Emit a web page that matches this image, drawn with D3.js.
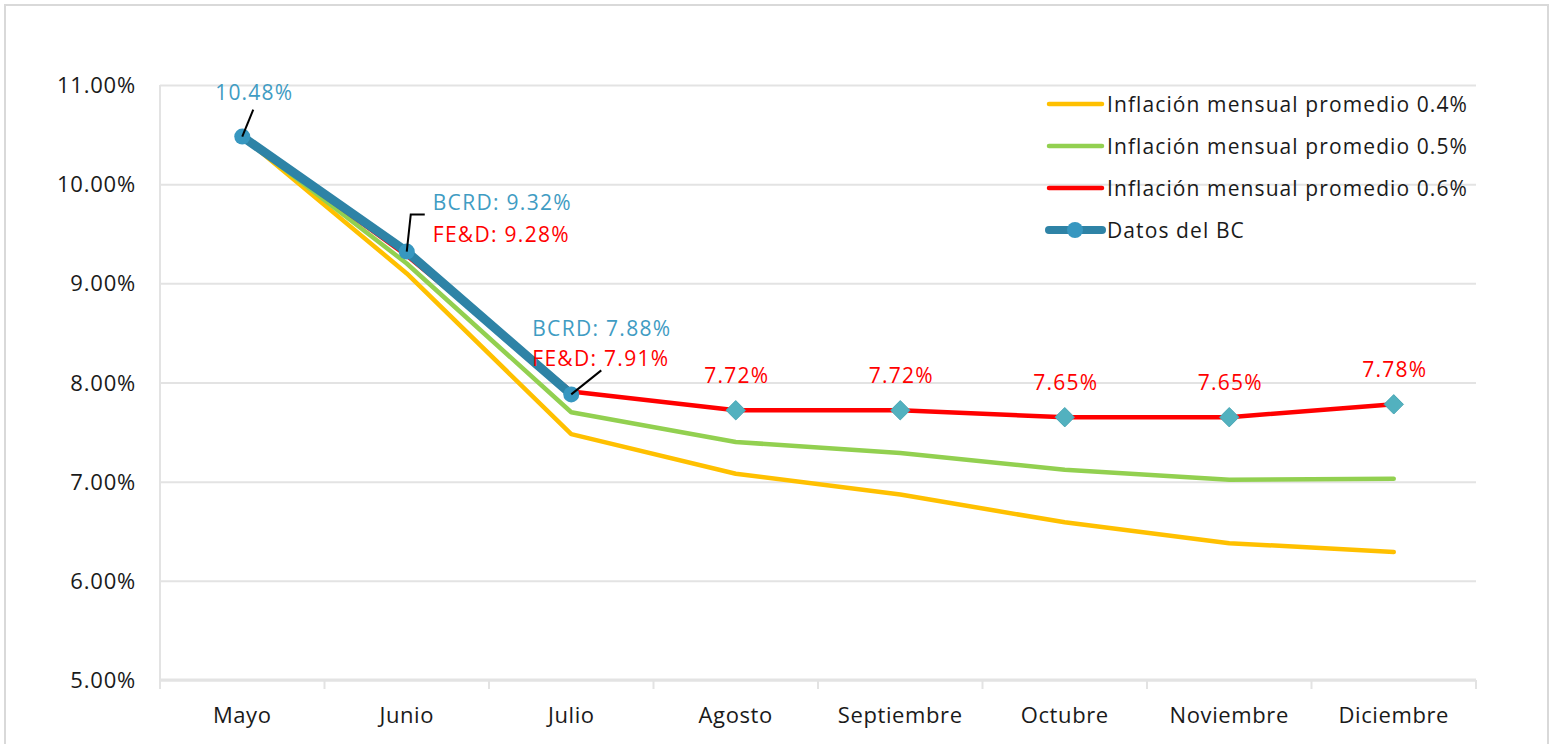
<!DOCTYPE html>
<html>
<head>
<meta charset="utf-8">
<script src="https://cdn.jsdelivr.net/npm/d3@7"></script>
<style>
  body { margin: 0; background: #fff; }
  text { font-family: "Open Sans", sans-serif; }
</style>
</head>
<body>
<div id="chart"></div>
<script>
//data
var months = ["Mayo", "Junio", "Julio", "Agosto", "Septiembre", "Octubre", "Noviembre", "Diciembre"];
var infl04 = [10.48, 9.10, 7.48, 7.08, 6.87, 6.59, 6.38, 6.29];
var infl05 = [10.48, 9.20, 7.70, 7.40, 7.29, 7.12, 7.02, 7.03];
var infl06 = [10.48, 9.28, 7.91, 7.72, 7.72, 7.65, 7.65, 7.78];
var bcData = [10.48, 9.32, 7.88, null, null, null, null, null];
var yTicks = [5, 6, 7, 8, 9, 10, 11];
var legendNames = ["Inflación mensual promedio 0.4%", "Inflación mensual promedio 0.5%",
    "Inflación mensual promedio 0.6%", "Datos del BC"];

//svg dimensions
var svgWidth = 1552;
var svgHeight = 744;

var margin = { top: 85, right: 76, bottom: 64, left: 160 };
var width = svgWidth - margin.left - margin.right;
var height = svgHeight - margin.top - margin.bottom;

var svg = d3.select("#chart").append("svg")
    .attr("width", svgWidth)
    .attr("height", svgHeight);

//outer border
svg.append("rect")
    .attr("x", 5).attr("y", 5)
    .attr("width", 1543).attr("height", 760)
    .attr("fill", "none")
    .attr("stroke", "#d9d9d9")
    .attr("stroke-width", 2);

var chartGroup = svg.append("g")
    .attr("transform", `translate(${margin.left}, ${margin.top})`);

//scales
var xBand = d3.scaleBand().domain(months).range([0, width]);
var x = d => xBand(d) + xBand.bandwidth() / 2;
var y = d3.scaleLinear().domain([5, 11]).range([height, 0]);

//gridlines
chartGroup.append("g")
    .call(d3.axisLeft(y).tickValues(yTicks).tickSize(-width).tickFormat(""))
    .call(g => g.select(".domain").remove())
    .selectAll("line")
    .attr("stroke", "#e3e3e3")
    .attr("stroke-width", 2);

//y tick labels
chartGroup.append("g")
    .selectAll("text")
    .data(yTicks)
    .enter()
    .append("text")
    .attr("x", -24)
    .attr("y", d => y(d) + 8)
    .attr("text-anchor", "end")
    .attr("font-size", "22px")
    .attr("letter-spacing", "0.8px")
    .attr("fill", "#1a1a1a")
    .text(d => d.toFixed(2) + "%");

//left axis line
chartGroup.append("line")
    .attr("x1", 0).attr("x2", 0)
    .attr("y1", 0).attr("y2", height)
    .attr("stroke", "#e3e3e3")
    .attr("stroke-width", 2);

//x axis with ticks between categories
var xAxis = chartGroup.append("g")
    .attr("transform", `translate(0, ${height})`);

xAxis.append("line")
    .attr("x1", 0).attr("x2", width)
    .attr("stroke", "#e3e3e3")
    .attr("stroke-width", 3);

xAxis.selectAll(".tick")
    .data(months.concat(["end"]))
    .enter()
    .append("line")
    .attr("x1", (d, i) => i * xBand.bandwidth())
    .attr("x2", (d, i) => i * xBand.bandwidth())
    .attr("y1", 0).attr("y2", 9)
    .attr("stroke", "#e3e3e3")
    .attr("stroke-width", 2);

xAxis.selectAll(".xlabel")
    .data(months)
    .enter()
    .append("text")
    .attr("x", d => x(d))
    .attr("y", 43)
    .attr("text-anchor", "middle")
    .attr("font-size", "22px")
    .attr("letter-spacing", "0.6px")
    .attr("fill", "#1a1a1a")
    .text(d => d);

//line generator
var line = d3.line()
    .defined(d => d.v != null)
    .x(d => x(d.m))
    .y(d => y(d.v));

function pairs(values) {
    return months.map((m, i) => ({ m: m, v: values[i] }));
}

var series = [
    { values: infl04, color: "#ffc000", w: 4.5 },
    { values: infl05, color: "#92d050", w: 4.5 },
    { values: infl06, color: "#ff0000", w: 4.5 },
    { values: bcData, color: "#2e83a6", w: 9 }
];

series.forEach(function(s) {
    chartGroup.append("path")
        .datum(pairs(s.values))
        .attr("d", line)
        .attr("fill", "none")
        .attr("stroke", s.color)
        .attr("stroke-width", s.w)
        .attr("stroke-linejoin", "round")
        .attr("stroke-linecap", "round");
});

//diamond markers on the projected part of the 0.6% line
chartGroup.selectAll(".diamond")
    .data(pairs(infl06).slice(3))
    .enter()
    .append("path")
    .attr("d", d3.symbol().type(d3.symbolDiamond2).size(240))
    .attr("transform", d => `translate(${x(d.m)}, ${y(d.v)})`)
    .attr("fill", "#52b1bf")
    .attr("stroke", "#4aa7b5")
    .attr("stroke-width", 1);

//circle markers for BC data
chartGroup.selectAll(".bcdot")
    .data(pairs(bcData).filter(d => d.v != null))
    .enter()
    .append("circle")
    .attr("cx", d => x(d.m))
    .attr("cy", d => y(d.v))
    .attr("r", 8)
    .attr("fill", "#3797c0");

//leader lines
var leaders = [
    [[x("Mayo"), y(bcData[0])], [x("Mayo") + 11, y(bcData[0]) - 27]],
    [[x("Junio"), y(bcData[1])], [x("Junio") + 4, y(bcData[1]) - 37], [x("Junio") + 18, y(bcData[1]) - 37]],
    [[x("Julio"), y(bcData[2])], [x("Julio") + 30, y(bcData[2]) - 24]]
];
leaders.forEach(function(pts) {
    chartGroup.append("path")
        .attr("d", d3.line()(pts))
        .attr("fill", "none")
        .attr("stroke", "#000")
        .attr("stroke-width", 2);
});

//data labels
var blue = "#3f9cc3";
chartGroup.append("text")
    .attr("x", x("Mayo") + 12)
    .attr("y", y(bcData[0]) - 37)
    .attr("text-anchor", "middle")
    .attr("font-size", "21px")
    .attr("letter-spacing", "1.2px")
    .attr("fill", blue)
    .text("10.48%");

[["Junio", 1, -42, -10], ["Julio", 2, -58, -28]].forEach(function(a) {
    var m = a[0], i = a[1];
    chartGroup.append("text")
        .attr("x", x(m) + (m === "Junio" ? 26 : -39))
        .attr("y", y(bcData[i]) + a[2])
        .attr("font-size", "21px")
        .attr("letter-spacing", "1.3px")
        .attr("fill", blue)
        .text("BCRD: " + bcData[i].toFixed(2) + "%");
    chartGroup.append("text")
        .attr("x", x(m) + (m === "Junio" ? 26 : -39))
        .attr("y", y(bcData[i]) + a[3])
        .attr("font-size", "21px")
        .attr("letter-spacing", "1.3px")
        .attr("fill", "#ff0000")
        .text("FE&D: " + infl06[i].toFixed(2) + "%");
});

chartGroup.selectAll(".redlabel")
    .data(pairs(infl06).slice(3))
    .enter()
    .append("text")
    .attr("x", d => x(d.m) + 1)
    .attr("y", d => y(d.v) - 27)
    .attr("text-anchor", "middle")
    .attr("font-size", "21px")
    .attr("letter-spacing", "1.2px")
    .attr("fill", "#ff0000")
    .text(d => d.v.toFixed(2) + "%");

//legend
var legend = svg.append("g")
    .attr("transform", "translate(1047, 104)");

legendNames.forEach(function(name, i) {
    var s = series[i];
    var row = legend.append("g").attr("transform", `translate(0, ${i * 42})`);
    row.append("line")
        .attr("x1", 2).attr("x2", 55)
        .attr("stroke", s.color)
        .attr("stroke-width", i === 3 ? 8 : 4.5)
        .attr("stroke-linecap", "round");
    if (i === 3) {
        row.append("circle")
            .attr("cx", 28).attr("r", 8)
            .attr("fill", "#3797c0");
    }
    row.append("text")
        .attr("x", 60)
        .attr("y", 8)
        .attr("font-size", "21px")
        .attr("letter-spacing", "1.1px")
        .attr("fill", "#1a1a1a")
        .text(name);
});
</script>
</body>
</html>
